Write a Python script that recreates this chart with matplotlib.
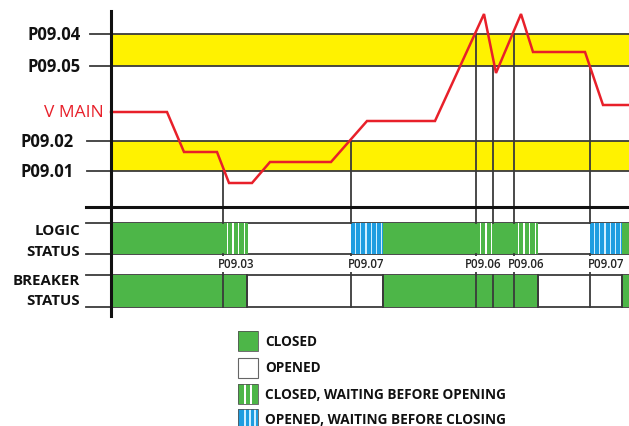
import matplotlib
matplotlib.use("Agg")
import matplotlib.pyplot as plt
from matplotlib.patches import Rectangle

# ---------------- data ----------------
# voltage trace (time, level) in chart units
t_points = [111, 167, 184, 217, 229, 252, 270, 331, 367, 435, 484, 496, 521, 533, 585, 603, 629]
v_points = [113, 113, 153, 153, 184, 184, 163, 163, 122, 122, 15, 74, 15, 53, 53, 106, 106]

level_names = ["P09.04", "P09.05", "P09.02", "P09.01"]
level_values = [35, 67, 142, 172]
vmain_level = 113

# event times and the threshold they start from
event_times = [223, 351, 476, 493, 514, 590]
event_start = [172, 142, 35, 67, 35, 67]
event_labels = ["P09.03", "P09.07", "P09.06", "", "P09.06", "P09.07"]
label_starts = [218, 348, 465, 0, 508, 588]

# logic status segments: (start, end, state)
logic_segments = [(111, 223, "closed"), (223, 248, "closed_wait"),
                  (248, 351, "opened"), (351, 383, "opened_wait"),
                  (383, 476, "closed"), (476, 493, "closed_wait"),
                  (493, 514, "closed"), (514, 538, "closed_wait"),
                  (538, 590, "opened"), (590, 622, "opened_wait"),
                  (622, 629, "closed")]
# breaker status segments
breaker_segments = [(111, 247, "closed"), (247, 383, "opened"),
                    (383, 538, "closed"), (538, 622, "opened"),
                    (622, 629, "closed")]

legend_labels = ["CLOSED", "OPENED", "CLOSED, WAITING BEFORE OPENING",
                 "OPENED, WAITING BEFORE CLOSING"]
legend_states = ["closed", "opened", "closed_wait", "opened_wait"]

# ---------------- style ----------------
GREEN = "#4db648"
BLUE = "#1e9de0"
YELLOW = "#fff200"
RED = "#e8202a"
LINE = "#3a3a3a"
FONT = "Open Sans"

fig = plt.figure(figsize=(6.29, 4.27), dpi=100)
ax = fig.add_axes([0, 0, 1, 1])
ax.set_xlim(0, 629)
ax.set_ylim(427, 0)
ax.axis("off")

X_AXIS = 111
X_END = 629

# yellow bands
ax.add_patch(Rectangle((X_AXIS, level_values[0]), X_END - X_AXIS,
                       level_values[1] - level_values[0], color=YELLOW, lw=0, zorder=1))
ax.add_patch(Rectangle((X_AXIS, level_values[2]), X_END - X_AXIS,
                       level_values[3] - level_values[2], color=YELLOW, lw=0, zorder=1))

# threshold lines and labels
label_right = {"P09.04": 81, "P09.05": 81, "P09.02": 74, "P09.01": 74}
tick_left = {"P09.04": 90, "P09.05": 90, "P09.02": 87, "P09.01": 87}
for name, y in zip(level_names, level_values):
    ax.plot([tick_left[name], X_END], [y, y], color=LINE, lw=1.3, zorder=2)
    ax.text(label_right[name], y, name, ha="right", va="center", fontsize=12,
            fontweight="bold", family=FONT, color="#111111")
ax.text(104, vmain_level, "V MAIN", ha="right", va="center", fontsize=12.5,
        family=FONT, color=RED)

# lower-area horizontal lines
ROW_TOP = 208
LOGIC_T, LOGIC_B = 224, 255
BRK_T, BRK_B = 276, 308
ax.plot([86, X_END], [ROW_TOP, ROW_TOP], color="#111111", lw=2.2, zorder=5)
for y in (LOGIC_T, LOGIC_B, BRK_T, BRK_B):
    ax.plot([86, X_END], [y, y], color=LINE, lw=1.3, zorder=2)

for txt, y in (("LOGIC", 231), ("STATUS", 252), ("BREAKER", 281), ("STATUS", 301)):
    ax.text(80, y, txt, ha="right", va="center", fontsize=10.8, fontweight="bold",
            family=FONT, color="#111111")


def draw_state(x0, x1, y0, y1, state, zorder=3, spacing=None, first=None, margin=0.0):
    w = x1 - x0
    h = y1 - y0
    if state == "closed":
        ax.add_patch(Rectangle((x0, y0), w, h, color=GREEN, lw=0, zorder=zorder))
    elif state == "opened":
        return
    else:
        base = GREEN if state == "closed_wait" else BLUE
        stripe = "#ffffff" if state == "closed_wait" else "#cfeeff"
        ax.add_patch(Rectangle((x0, y0), w, h, color=base, lw=0, zorder=zorder))
        sp = spacing if spacing else (5.6 if state == "closed_wait" else 5.3)
        x = x0 + (first if first is not None else sp * 0.8)
        while x < x1 - margin:
            ax.add_patch(Rectangle((x - 0.6, y0), 1.3, h, color=stripe, lw=0, zorder=zorder + 0.1))
            x += sp


for x0, x1, st in logic_segments:
    draw_state(x0, x1, LOGIC_T, LOGIC_B, st)
for x0, x1, st in breaker_segments:
    draw_state(x0, x1, BRK_T, BRK_B, st)

# breaker segment edges
for x0, x1, st in breaker_segments:
    for x in (x0, x1):
        if X_AXIS < x < X_END:
            ax.plot([x, x], [BRK_T, BRK_B], color=LINE, lw=1.3, zorder=4)

# event vertical lines
for x, ys, lab, lx in zip(event_times, event_start, event_labels, label_starts):
    ax.plot([x, x], [ys, LOGIC_T], color=LINE, lw=1.3, zorder=4)
    ax.plot([x, x], [BRK_T, BRK_B], color=LINE, lw=1.3, zorder=4)
    if lab:
        ax.plot([x, x], [LOGIC_B, BRK_T], color=LINE, lw=1.3, zorder=4)
        ax.text(lx, 265, lab, ha="left", va="center", fontsize=8.3,
                fontweight="semibold", family=FONT, color="#222222", zorder=6,
                bbox=dict(boxstyle="square,pad=0.12", fc="white", ec="none"))

# voltage trace
ax.plot(t_points, v_points, color=RED, lw=1.8, zorder=7, solid_joinstyle="miter")

# main vertical axis
ax.plot([X_AXIS, X_AXIS], [12, 317], color="#111111", lw=2.2, zorder=8)

# legend
leg_y = [342, 368.5, 395, 420]
for y, lab, st in zip(leg_y, legend_labels, legend_states):
    x0, s = 238, 20
    top = y - s / 2
    if st == "opened":
        ax.add_patch(Rectangle((x0, top), s, s, fc="white", ec="#666666", lw=0.8, zorder=3))
    else:
        draw_state(x0, x0 + s, top, top + s, st,
                   spacing=(6.0 if st == "closed_wait" else 5.0), first=7, margin=1.5)
        ax.add_patch(Rectangle((x0, top), s, s, fc="none", ec="#555555", lw=0.6, zorder=5))
    ax.text(265, y, lab, ha="left", va="center", fontsize=9.8, fontweight="bold",
            family=FONT, color="#111111")

fig.savefig("out.png", dpi=100)
